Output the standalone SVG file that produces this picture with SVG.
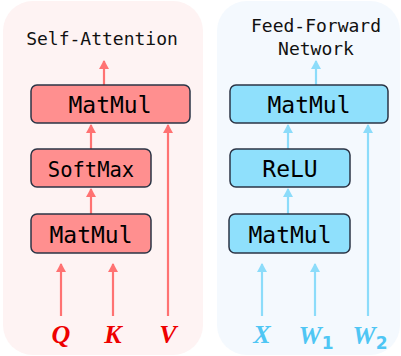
<svg xmlns="http://www.w3.org/2000/svg" width="401" height="356" viewBox="0 0 401 356">
  <defs>
    <style>
      .title{font-family:"DejaVu Sans Mono",monospace;font-size:18px;fill:#111;text-anchor:middle}
      .op{font-family:"DejaVu Sans Mono",monospace;fill:#000;text-anchor:middle}
      .rbox{fill:#ff8f8f;stroke:#2b3445;stroke-width:1.5}
      .bbox{fill:#8fe0fc;stroke:#2b3445;stroke-width:1.5}
      .ra{stroke:#ff7272;stroke-width:2.2;fill:none}
      .ba{stroke:#8cdcfa;stroke-width:2.2;fill:none}
      .lbl{font-family:"Liberation Serif",serif;font-weight:bold;font-style:italic;font-size:26px;text-anchor:middle}
      .sub{font-family:"DejaVu Sans",sans-serif;font-weight:bold;font-style:normal;font-size:17px}
    </style>
    <marker id="mr" markerWidth="10" markerHeight="10" refX="8" refY="5" orient="auto" markerUnits="userSpaceOnUse">
      <path d="M0,0 L9,5 L0,10 Z" fill="#ff7272"/>
    </marker>
    <marker id="mb" markerWidth="10" markerHeight="10" refX="8" refY="5" orient="auto" markerUnits="userSpaceOnUse">
      <path d="M0,0 L9,5 L0,10 Z" fill="#8cdcfa"/>
    </marker>
  </defs>

  <g id="panels">
    <rect x="3" y="1" width="200" height="354" rx="30" fill="#fef3f3"/>
    <rect x="217" y="1" width="183" height="354" rx="30" fill="#f4f9fe"/>
  </g>

  <g id="connectors">
    <line class="ra" x1="104" y1="85" x2="104" y2="61" marker-end="url(#mr)"/>
    <line class="ra" x1="91" y1="149" x2="91" y2="125" marker-end="url(#mr)"/>
    <line class="ra" x1="91" y1="214" x2="91" y2="189" marker-end="url(#mr)"/>
    <line class="ra" x1="61" y1="316" x2="61" y2="264" marker-end="url(#mr)"/>
    <line class="ra" x1="113" y1="316" x2="113" y2="264" marker-end="url(#mr)"/>
    <line class="ra" x1="168" y1="316" x2="168" y2="125" marker-end="url(#mr)"/>

    <line class="ba" x1="316" y1="85" x2="316" y2="61" marker-end="url(#mb)"/>
    <line class="ba" x1="288" y1="149" x2="288" y2="125" marker-end="url(#mb)"/>
    <line class="ba" x1="288" y1="214" x2="288" y2="189" marker-end="url(#mb)"/>
    <line class="ba" x1="262" y1="316" x2="262" y2="264" marker-end="url(#mb)"/>
    <line class="ba" x1="315" y1="316" x2="315" y2="264" marker-end="url(#mb)"/>
    <line class="ba" x1="368" y1="316" x2="368" y2="125" marker-end="url(#mb)"/>
  </g>

  <g id="title-sa"><text class="title" x="102" y="45">Self-Attention</text></g>
  <g id="title-ffn">
    <text class="title" x="316" y="32">Feed-Forward</text>
    <text class="title" x="316" y="55">Network</text>
  </g>

  <g id="sa-matmul-top">
    <rect class="rbox" x="31" y="85" width="159" height="38" rx="6"/>
    <text class="op" x="110" y="113" font-size="23">MatMul</text>
  </g>
  <g id="sa-softmax">
    <rect class="rbox" x="31" y="149" width="120" height="38" rx="6"/>
    <text class="op" x="91" y="177" font-size="20.5">SoftMax</text>
  </g>
  <g id="sa-matmul-bottom">
    <rect class="rbox" x="31" y="214" width="120" height="39" rx="6"/>
    <text class="op" x="91" y="243" font-size="23">MatMul</text>
  </g>

  <g id="ffn-matmul-top">
    <rect class="bbox" x="230" y="85" width="158" height="38" rx="6"/>
    <text class="op" x="309" y="113" font-size="23">MatMul</text>
  </g>
  <g id="ffn-relu">
    <rect class="bbox" x="230" y="149" width="120" height="38" rx="6"/>
    <text class="op" x="290" y="177" font-size="23">ReLU</text>
  </g>
  <g id="ffn-matmul-bottom">
    <rect class="bbox" x="229" y="214" width="121" height="39" rx="6"/>
    <text class="op" x="290" y="243" font-size="23">MatMul</text>
  </g>

  <g id="label-q"><text class="lbl" x="61" y="343" fill="#ee0000">Q</text></g>
  <g id="label-k"><text class="lbl" x="113" y="343" fill="#ee0000">K</text></g>
  <g id="label-v"><text class="lbl" x="168" y="343" fill="#ee0000">V</text></g>
  <g id="label-x"><text class="lbl" x="262" y="343" fill="#4fc6f4">X</text></g>
  <g id="label-w1"><text class="lbl" x="316" y="344" fill="#4fc6f4">W<tspan class="sub" dy="5">1</tspan></text></g>
  <g id="label-w2"><text class="lbl" x="370" y="344" fill="#4fc6f4">W<tspan class="sub" dy="5">2</tspan></text></g>
</svg>
